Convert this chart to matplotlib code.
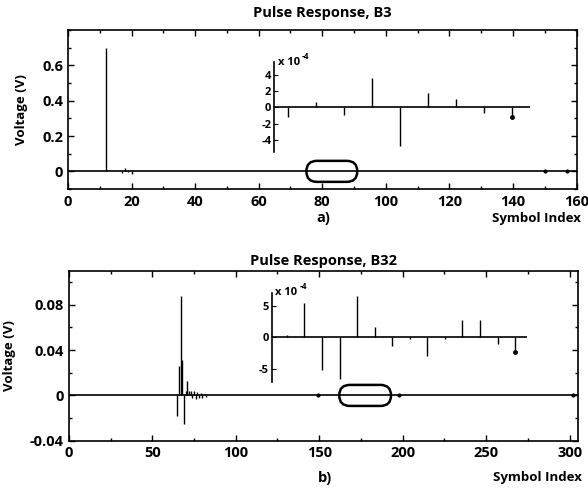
import numpy as np
import matplotlib
matplotlib.use('Agg')
import matplotlib.pyplot as plt
from matplotlib.patches import FancyBboxPatch
from matplotlib.ticker import MultipleLocator, FixedLocator, FuncFormatter

plt.rcParams['font.family'] = ['Open Sans', 'DejaVu Sans']
plt.rcParams['font.weight'] = 'bold'
plt.rcParams['axes.titleweight'] = 'bold'
plt.rcParams['axes.labelweight'] = 'bold'
plt.rcParams['axes.unicode_minus'] = False

# a) B3 pulse response (main view)
idx_a = [12, 17, 18, 19, 20]
volt_a = [0.70, -0.012, 0.02, -0.006, -0.015]
dots_a = [150, 157]
zoom_a = (75, 91)
yticks_a = [0, 0.2, 0.4, 0.6]
# a) inset, x 10^-4
inset_idx_a = [76, 78, 80, 82, 84, 86, 88, 90, 92]
inset_val_a = [-1.25, 0.6, -0.95, 3.6, -4.8, 1.75, 1.0, -0.7, -1.15]

# b) B32 pulse response (main view)
idx_b = [65, 66, 67, 68, 69, 70, 71, 72, 73, 74, 75, 76, 77, 78, 79, 80, 81, 82]
volt_b = [-0.018, 0.026, 0.088, 0.031, -0.025, 0.004, 0.013, 0.004, 0.004,
          -0.002, 0.004, -0.003, 0.003, -0.002, 0.002, -0.002, 0.001, -0.001]
dots_b = [149, 198, 302]
zoom_b = (162, 193)
yticks_b = [-0.04, 0, 0.04, 0.08]
# b) inset, x 10^-4
inset_idx_b = [164, 166, 168, 170, 172, 174, 176, 178, 180, 182, 184, 186, 188, 190]
inset_val_b = [0.35, 5.4, -5.1, -6.6, 6.45, 1.7, -1.3, -0.3, -2.9, -0.3,
               2.75, 2.75, -1.1, -2.3]

fig = plt.figure(figsize=(5.88, 4.91), dpi=100)


def main_panel(rect, idx, volt, dots, zoom, xlim, ylim, xmaj, xmin, yticks, ymin,
               title, tpad, tag, tag_xy, sym_y, yfmt):
    ax = fig.add_axes(rect)
    ax.axhline(0, color='black', lw=1.2, zorder=1)
    ax.vlines(idx, 0, volt, color='black', lw=1.0)
    ax.plot(dots, [0] * len(dots), 'o', color='black', ms=2)
    ax.set_xlim(*xlim)
    ax.set_ylim(*ylim)
    ax.xaxis.set_major_locator(MultipleLocator(xmaj))
    ax.xaxis.set_minor_locator(MultipleLocator(xmin))
    ax.yaxis.set_major_locator(FixedLocator(yticks))
    ax.yaxis.set_minor_locator(MultipleLocator(ymin))
    ax.tick_params(which='both', direction='in', top=True, right=True,
                   labelsize=10.5, width=1)
    ax.tick_params(which='major', length=4)
    ax.tick_params(which='minor', length=2.5)
    ax.tick_params(axis='x', pad=4)
    ax.yaxis.set_major_formatter(yfmt)
    for s in ax.spines.values():
        s.set_linewidth(1.2)
    ax.set_title(title, fontsize=10.5, pad=tpad)
    ax.set_ylabel('Voltage (V)', fontsize=9.5, labelpad=10)
    ax.text(1.008, sym_y, 'Symbol Index', transform=ax.transAxes,
            ha='right', va='center', fontsize=9.5)
    ax.text(tag_xy[0], tag_xy[1], tag, transform=ax.transAxes, ha='center',
            va='center', fontsize=10.5)
    # rounded marker around the zoomed region
    fig.canvas.draw()
    bb = ax.get_window_extent()
    px_x = bb.width / (xlim[1] - xlim[0])
    px_y = bb.height / (ylim[1] - ylim[0])
    h = 21 / px_y
    rnd = 10.5 / px_x
    box = FancyBboxPatch((zoom[0], -h / 2), zoom[1] - zoom[0], h,
                         boxstyle='round,pad=0,rounding_size=%f' % rnd,
                         mutation_aspect=px_x / px_y,
                         fill=False, ec='black', lw=1.8, zorder=3)
    ax.add_patch(box)
    return ax


def inset_panel(rect, idx, val, xlim, ylim, yticks):
    ax = fig.add_axes(rect)
    ax.patch.set_visible(False)
    for k in ['top', 'right', 'bottom']:
        ax.spines[k].set_visible(False)
    ax.spines['left'].set_linewidth(1.2)
    ax.plot(list(xlim), [0, 0], color='black', lw=1.2)
    ax.vlines(idx, 0, val, color='black', lw=1.0)
    ax.plot(idx[-1], val[-1], 'o', color='black', ms=2.5)
    ax.set_xlim(*xlim)
    ax.set_ylim(*ylim)
    ax.set_xticks([])
    ax.set_yticks(yticks)
    ax.tick_params(axis='y', direction='in', length=3, labelsize=8, pad=2)
    ax.text(0.015, 1.0, 'x 10', transform=ax.transAxes, ha='left',
            va='center', fontsize=8)
    ax.text(0.11, 1.07, '-4', transform=ax.transAxes, ha='left',
            va='center', fontsize=6)
    return ax


fmt_a = FuncFormatter(lambda v, p: '0' if abs(v) < 1e-9 else '%.1f' % v)
fmt_b = FuncFormatter(lambda v, p: '0' if abs(v) < 1e-9 else '%.2f' % v)

main_panel([0.1156, 0.615, 0.865, 0.324], idx_a, volt_a, dots_a, zoom_a,
           (0, 160), (-0.1, 0.8), 20, 10, yticks_a, 0.1,
           'Pulse Response, B3', 9, 'a)', (0.502, -0.183), -0.183, fmt_a)
main_panel([0.117, 0.1024, 0.866, 0.346], idx_b, volt_b, dots_b, zoom_b,
           (0, 305), (-0.04, 0.11), 50, 25, yticks_b, 0.02,
           'Pulse Response, B32', 4, 'b)', (0.504, -0.22), -0.215, fmt_b)

inset_panel([0.466, 0.690, 0.435, 0.183], inset_idx_a, inset_val_a,
            (75, 93.3), (-5.5, 5.5), [-4, -2, 0, 2, 4])
inset_panel([0.462, 0.2226, 0.435, 0.1807], inset_idx_b, inset_val_b,
            (162.26, 191.4), (-7, 7), [-5, 0, 5])

fig.savefig('out.png', dpi=100)
